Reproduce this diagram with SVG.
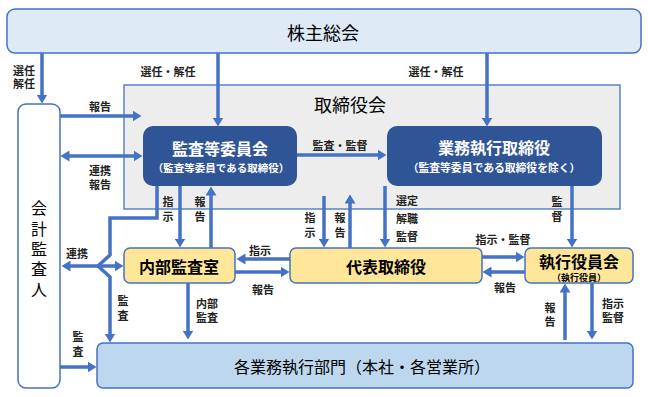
<svg xmlns="http://www.w3.org/2000/svg" width="648" height="397" viewBox="0 0 648 397">
<style>
text{font-family:"Noto Sans CJK JP","Noto Sans CJK SC",sans-serif;fill:#000;text-anchor:middle;dominant-baseline:central}
.lbl{font-size:11px;font-weight:bold;fill:#222}
.v{writing-mode:vertical-rl;letter-spacing:4px}
.big{font-size:18px}
.nd{font-size:16px;font-weight:bold}
.wt{fill:#fff}
.ar{fill:none;stroke:#4472C4;stroke-width:3.5}
</style>
<defs>
<marker id="ah" markerUnits="userSpaceOnUse" markerWidth="10" markerHeight="11" refX="0.5" refY="5.5" orient="auto-start-reverse">
<path d="M0,0 L9,5.5 L0,11 z" fill="#4472C4"/>
</marker>
</defs>

<g id="shareholders">
<rect x="7" y="9" width="634" height="44" rx="8" fill="#DEEBF7" stroke="#4472C4" stroke-width="1.5"/>
<text class="big" x="323" y="32">株主総会</text>
</g>

<g id="board">
<rect x="124" y="85" width="496" height="124" fill="#EDEDED" stroke="#4472C4" stroke-width="1.3"/>
<text class="big" x="350" y="104">取締役会</text>
</g>

<g id="audit-committee">
<rect x="143" y="126" width="154" height="60" rx="10" fill="#2F5597"/>
<text class="wt" x="220" y="148"><tspan class="nd">監査等委員会</tspan><tspan x="221" y="167" style="font-size:10.5px;font-weight:bold">（監査等委員である取締役）</tspan></text>
</g>

<g id="exec-directors">
<rect x="387" y="126" width="215" height="60" rx="10" fill="#2F5597"/>
<text class="wt" x="494" y="147"><tspan class="nd">業務執行取締役</tspan><tspan x="494" y="167" style="font-size:10.8px;font-weight:bold">（監査等委員である取締役を除く）</tspan></text>
</g>

<g id="auditor">
<rect x="18" y="104" width="42" height="284" rx="8" fill="#fff" stroke="#4472C4" stroke-width="1.5"/>
<text class="v" style="font-size:16px;letter-spacing:4.3px" x="39" y="251">会計監査人</text>
</g>

<g id="internal-audit">
<rect x="124" y="248" width="111" height="35" rx="6" fill="#FFE699" stroke="#4472C4" stroke-width="1.5"/>
<text class="nd" x="179" y="266">内部監査室</text>
</g>

<g id="representative">
<rect x="290" y="248" width="192" height="35" rx="6" fill="#FFE699" stroke="#4472C4" stroke-width="1.5"/>
<text class="nd" x="386" y="266">代表取締役</text>
</g>

<g id="exec-officers">
<rect x="525" y="248" width="108" height="35" rx="6" fill="#FFE699" stroke="#4472C4" stroke-width="1.5"/>
<text x="579" y="261"><tspan class="nd">執行役員会</tspan><tspan x="579" y="277" style="font-size:9px;font-weight:bold">（執行役員）</tspan></text>
</g>

<g id="divisions">
<rect x="97" y="343" width="536" height="45" rx="6" fill="#BDD7EE" stroke="#4472C4" stroke-width="1.5"/>
<text x="362" y="366" style="font-size:16px">各業務執行部門（本社・各営業所）</text>
</g>

<g id="connectors">
<path class="ar" d="M42,53 V95" marker-end="url(#ah)"/>
<path class="ar" d="M218,53 V118" marker-end="url(#ah)"/>
<path class="ar" d="M487,53 V118" marker-end="url(#ah)"/>
<path class="ar" d="M60,116 H133" marker-end="url(#ah)"/>
<path class="ar" d="M69,156 H134" marker-start="url(#ah)" marker-end="url(#ah)"/>
<path class="ar" d="M297,155 H378" marker-end="url(#ah)"/>
<path class="ar" d="M180,186 V239" marker-end="url(#ah)"/>
<path class="ar" d="M211,248 V195" marker-end="url(#ah)"/>
<path class="ar" d="M157,186 V218 H110 V255 L98,266 L110,277 V334" marker-end="url(#ah)"/>
<path class="ar" d="M98,266 H70" marker-end="url(#ah)"/>
<path class="ar" d="M98,266 H115" marker-end="url(#ah)"/>
<path class="ar" d="M324,196 V239" marker-end="url(#ah)"/>
<path class="ar" d="M350,248 V203" marker-end="url(#ah)"/>
<path class="ar" d="M385,186 V239" marker-end="url(#ah)"/>
<path class="ar" d="M572,186 V239" marker-end="url(#ah)"/>
<path class="ar" d="M290,259 H245" marker-end="url(#ah)"/>
<path class="ar" d="M235,272 H281" marker-end="url(#ah)"/>
<path class="ar" d="M482,257 H516" marker-end="url(#ah)"/>
<path class="ar" d="M525,272 H491" marker-end="url(#ah)"/>
<path class="ar" d="M188,283 V331" marker-end="url(#ah)"/>
<path class="ar" d="M60,367 H88" marker-end="url(#ah)"/>
<path class="ar" d="M565,340 V292" marker-end="url(#ah)"/>
<path class="ar" d="M592,283 V331" marker-end="url(#ah)"/>
</g>

<g id="labels">
<text class="lbl" x="24" y="70">選任<tspan x="24" y="83">解任</tspan></text>
<text class="lbl" x="168" y="71">選任・解任</text>
<text class="lbl" x="436" y="71">選任・解任</text>
<text class="lbl" x="100" y="106">報告</text>
<text class="lbl" x="100" y="170">連携<tspan x="100" y="184">報告</tspan></text>
<text class="lbl" x="340" y="145">監査・監督</text>
<text class="lbl v" x="168" y="211">指示</text>
<text class="lbl v" x="200" y="211">報告</text>
<text class="lbl v" x="310" y="227">指示</text>
<text class="lbl v" x="340" y="227">報告</text>
<text class="lbl" x="407" y="200">選定<tspan x="407" y="218">解職</tspan><tspan x="407" y="236">監督</tspan></text>
<text class="lbl v" x="557" y="211">監督</text>
<text class="lbl" x="503" y="239">指示・監督</text>
<text class="lbl" x="77" y="253">連携</text>
<text class="lbl" x="260" y="250">指示</text>
<text class="lbl" x="263" y="289">報告</text>
<text class="lbl" x="505" y="287">報告</text>
<text class="lbl v" x="123" y="310">監査</text>
<text class="lbl" x="207" y="303">内部<tspan x="207" y="317">監査</tspan></text>
<text class="lbl v" x="78" y="346">監査</text>
<text class="lbl v" x="550" y="316" style="letter-spacing:3px">報告</text>
<text class="lbl" x="613" y="303">指示<tspan x="613" y="317">監督</tspan></text>
</g>
</svg>
